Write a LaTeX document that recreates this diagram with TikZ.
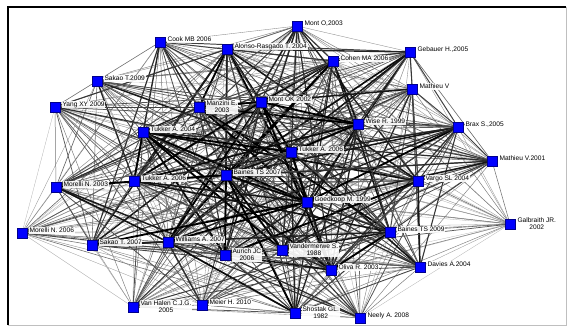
\documentclass[tikz,border=0pt]{standalone}
\usepackage{fontspec}
\setmainfont{Liberation Sans}
\usetikzlibrary{backgrounds}
\begin{document}
\begin{tikzpicture}[x=1pt,y=-1pt,
  actor/.style={rectangle, fill=blue, draw=blue!55!black, line width=0.3pt, minimum size=10pt, inner sep=0pt},
  lbl/.style={font=\fontsize{6.6}{7.2}\selectfont, fill=white, fill opacity=0.9, text opacity=1, inner sep=0.7pt, align=center},
  frameline/.style={line width=1.1pt, draw=black},
  frameshade/.style={line width=0.8pt, draw=black!25}]
\useasboundingbox (0,0) rectangle (568,331);
% weights (centrality) of the 33 actors
\def\W{{0.65,0.8,0.65,0.8,0.65,0.65,0.65,0.6,0.85,0.95,0.85,0.85,0.7,0.9,0.65,1.0,0.65,0.8,0.85,1.0,0.4,0.45,0.75,0.9,0.9,0.9,0.8,0.85,0.65,0.55,0.6,0.75,0.65}}
% actors
\foreach \id/\x/\y in {1/160/42, 2/227/49, 3/297/26, 4/333/61, 5/410/52, 6/412/89,
  7/97/81, 8/55/107, 9/199/107, 10/261/102, 11/143/132, 12/358/124, 13/458/127,
  14/291/152, 15/492/161, 16/226/175, 17/56/187, 18/134/181, 19/418/181,
  20/307/202, 21/510/224, 22/22/233, 23/92/245, 24/168/242, 25/225/255,
  26/282/250, 27/390/232, 28/331/270, 29/420/267, 30/133/307, 31/202/305,
  32/295/313, 33/360/318}
  \node[actor] (n\id) at (\x,\y) {};
% one-line labels
\foreach \id/\txt in {1/{Cook MB 2006}, 2/{Alonso-Rasgado T. 2004}, 3/{Mont O,2003},
  4/{Cohen MA 2006}, 5/{Gebauer H.,2005}, 6/{Mathieu V}, 7/{Sakao T.2009},
  8/{Yang XY 2009}, 10/{Mont OK 2002}, 11/{Tukker A. 2004}, 12/{Wise R. 1999},
  13/{Brax S.,2005}, 14/{Tukker A. 2006}, 15/{Mathieu V.2001}, 16/{Baines TS 2007},
  17/{Morelli N. 2003}, 18/{Tukker A. 2006}, 19/{Vargo SL 2004}, 20/{Goedkoop M. 1999},
  22/{Morelli N. 2006}, 23/{Sakao T. 2007}, 24/{Williams A. 2007}, 27/{Baines TS 2009},
  28/{Oliva R. 2003}, 29/{Davies A.2004}, 31/{Meier H. 2010}, 33/{Neely A. 2008}}
  \node[lbl, anchor=west] (l\id) at ([xshift=1.5pt,yshift=2.5pt]n\id.east) {\txt};
% two-line labels
\foreach \id/\txt in {9/{Manzini E.\\2003}, 21/{Galbraith JR.\\2002}, 25/{Aurich JC\\2006},
  26/{Vandermerwe S.\\1988}, 30/{Van Halen C.J.G.\\2005}, 32/{Shostak GL.\\1982}}
  \node[lbl, anchor=west] (l\id) at ([xshift=1.5pt,yshift=0pt]n\id.east) {\txt};
% ties
\begin{pgfonlayer}{background}
\fill[white] (0,0) rectangle (568,331);
\foreach \pass in {0,1}{
  \pgfmathsetseed{1234}
  \foreach \i in {1,...,32}{
    \pgfmathtruncatemacro\js{\i+1}
    \foreach \j in {\js,...,33}{
      \pgfmathsetmacro\ra{rnd}
      \pgfmathsetmacro\rb{rnd}
      \pgfmathsetmacro\s{min(1,\W[\i-1]*\W[\j-1]*(0.3+1.3*\ra))}
      \pgfmathtruncatemacro\hi{\s>=0.5 ? 1 : 0}
      \pgfmathtruncatemacro\keep{\rb>0.06 ? 1 : 0}
      \pgfmathsetmacro\lw{0.25+1.6*\s*\s}
      \pgfmathtruncatemacro\shade{25+75*\s}
      \ifnum\keep=1
        \ifnum\hi=\pass
          \draw[line width=\lw pt, draw=black!\shade] (n\i) -- (n\j);
        \fi
      \fi
    }
  }
}
\end{pgfonlayer}
% frame
\draw[frameshade] (566,7) -- (566,325) -- (8,325);
\draw[frameline] (8,325) -- (8,7) -- (566,7);
\end{tikzpicture}
\end{document}
